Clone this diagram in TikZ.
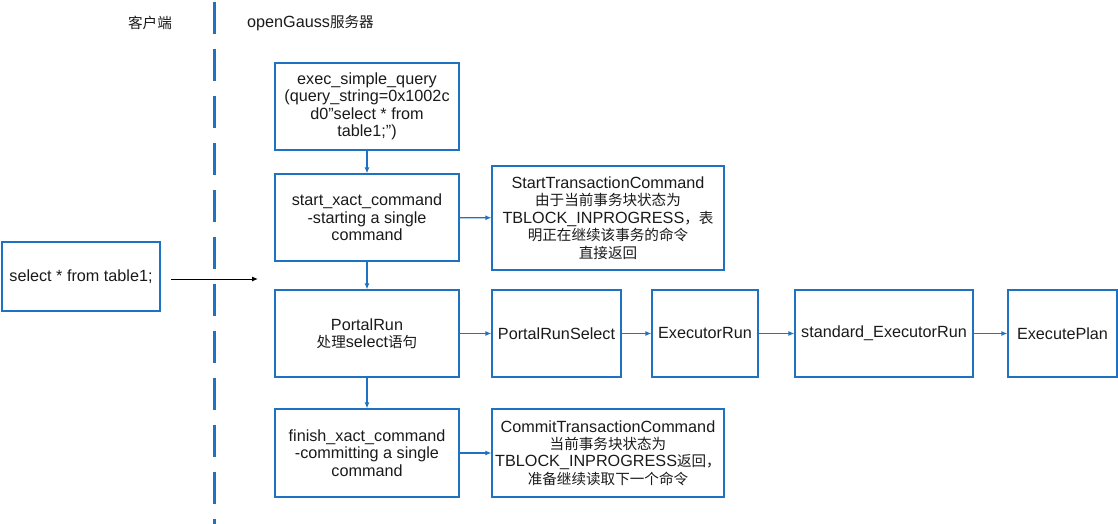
\documentclass[tikz,border=0pt]{standalone}
\usepackage{fontspec}
\setmainfont{Liberation Sans}
\newfontfamily\cjk[Scale=0.9]{Noto Sans CJK SC}
\newcommand\zh[1]{{\cjk #1}}
\usetikzlibrary{arrows.meta}
\definecolor{boxblue}{HTML}{1F72C1}
\definecolor{txt}{HTML}{1A1A1A}
\tikzset{
  box/.style={draw=boxblue, line width=1.2pt, rectangle, align=center, inner sep=2pt,
    text=txt, font=\fontsize{16.2}{17.4}\selectfont},
  flow/.style={draw=boxblue, line width=1.2pt, -{Latex[length=6pt,width=5pt]}},
  plain/.style={draw=black, line width=1pt, -{Latex[length=6pt,width=5pt]}},
  lbl/.style={text=txt, font=\fontsize{16.2}{17.4}\selectfont, inner sep=0pt},
  divider/.style={draw=boxblue, line width=3pt, dash pattern=on 32pt off 15pt}
}
\begin{document}
\begin{tikzpicture}[x=1pt,y=-1pt]
\useasboundingbox (0,0) rectangle (1118,524);
% divider
\coordinate (dtop) at (214,2);
\coordinate (dbot) at (214,524);
\draw[divider] (dtop) -- (dbot);
% headers
\node[lbl] (client) at (150,23) {\zh{客户端}};
\node[lbl, anchor=west] (server) at (247,23) {openGauss\zh{服务器}};
% boxes
\node[box, minimum width=184pt, minimum height=87pt] (exec) at (367,106.5)
  {exec\_simple\_query\\(query\_string=0x1002c\\d0"select * from\\table1;")};
\node[box, minimum width=184pt, minimum height=87pt] (start) at (367,217.5)
  {start\_xact\_command\\-starting a single\\command};
\node[box, minimum width=232pt, minimum height=104pt] (stc) at (608,218)
  {StartTransactionCommand\\\zh{由于当前事务块状态为}\\TBLOCK\_INPROGRESS\zh{，表}\\\zh{明正在继续该事务的命令}\\\zh{直接返回}};
\node[box, minimum width=158pt, minimum height=69pt] (sel) at (81,276.5)
  {select * from table1;};
\node[box, minimum width=184pt, minimum height=87pt] (pr) at (367,333.5)
  {PortalRun\\\zh{处理}select\zh{语句}};
\node[box, minimum width=129pt, minimum height=87pt] (prs) at (556.5,333.5)
  {PortalRunSelect};
\node[box, minimum width=106pt, minimum height=87pt] (er) at (705,333.5)
  {ExecutorRun};
\node[box, minimum width=178pt, minimum height=87pt] (ser) at (884,333.5)
  {standard\_ExecutorRun};
\node[box, minimum width=109pt, minimum height=87pt] (ep) at (1062.5,333.5)
  {ExecutePlan};
\node[box, minimum width=184pt, minimum height=88pt] (fin) at (367,453)
  {finish\_xact\_command\\-committing a single\\command};
\node[box, minimum width=232pt, minimum height=88pt] (com) at (608,453)
  {CommitTransactionCommand\\\zh{当前事务块状态为}\\TBLOCK\_INPROGRESS\zh{返回，}\\\zh{准备继续读取下一个命令}};
% connectors
\draw[flow] (exec) -- (start);
\draw[flow] (start) -- (pr);
\draw[flow] (pr) -- (fin);
\draw[flow] (start) -- (stc);
\draw[flow] (pr) -- (prs);
\draw[flow] (prs) -- (er);
\draw[flow] (er) -- (ser);
\draw[flow] (ser) -- (ep);
\draw[flow] (fin) -- (com);
\coordinate (a1) at (171,279);
\coordinate (a2) at (258,279);
\draw[plain] (a1) -- (a2);
\end{tikzpicture}
\end{document}
